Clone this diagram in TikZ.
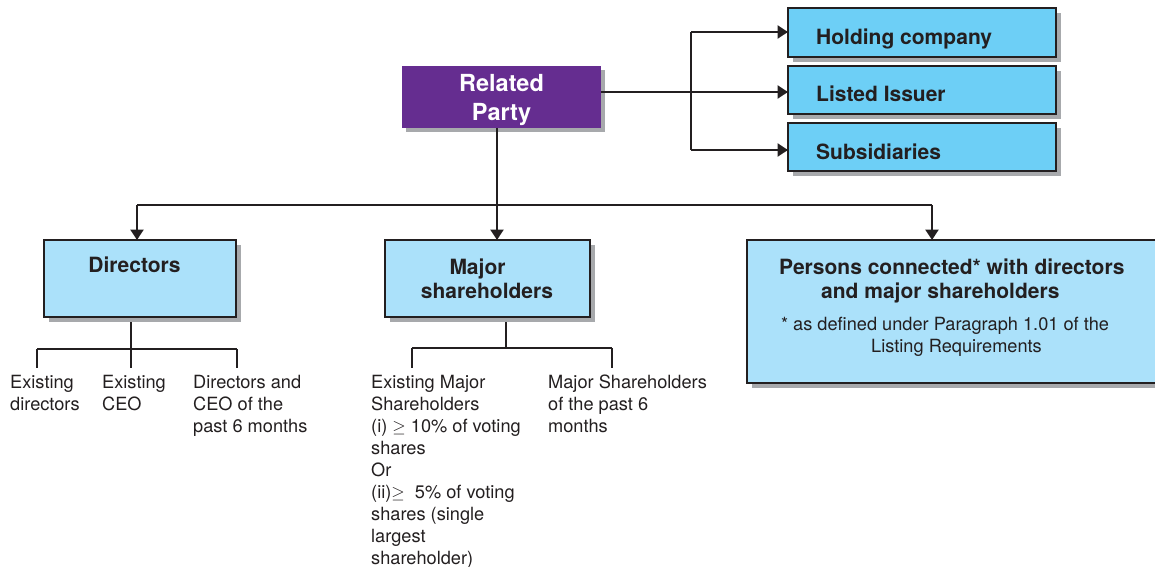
\documentclass[tikz,border=0pt]{standalone}
\usepackage{fontspec}
\setmainfont{TeX Gyre Heros}
\usetikzlibrary{arrows.meta}
\definecolor{ink}{HTML}{231F20}
\definecolor{rppurple}{HTML}{652D90}
\definecolor{brightblue}{HTML}{6DCFF6}
\definecolor{paleblue}{HTML}{ABE1FA}
\definecolor{shade}{HTML}{A7A9AC}
\newcommand\linesL[1]{\begin{tabular}[t]{@{}l@{}}#1\end{tabular}}
\newcommand\linesC[1]{\begin{tabular}[t]{@{}c@{}}#1\end{tabular}}
\begin{document}
\begin{tikzpicture}[x=1pt,y=-1pt,
  conn/.style={draw=ink, line width=2.4pt},
  arr/.style={conn, -{Triangle[length=10.5pt,width=13pt]}},
  boxbase/.style={rectangle, anchor=north west, inner sep=0pt, outer sep=0pt},
  topbox/.style={boxbase, fill=brightblue, draw=ink, line width=2.2pt},
  catbox/.style={boxbase, fill=paleblue, draw=ink, line width=2.2pt},
  shadowbox/.style={fill=shade},
  boldtxt/.style={inner sep=0pt, text=ink, font=\fontsize{21}{24.5}\selectfont\bfseries},
  plaintxt/.style={inner sep=0pt, text=ink, font=\fontsize{18.2}{22}\selectfont, anchor=base west},
]
\useasboundingbox (0,0) rectangle (1155,566);
\clip (0,0) rectangle (1155,566);

% ---- shadows ----
\fill[shadowbox] (406,70) rectangle (605,132);
\fill[shadowbox] (793,13) rectangle (1061,62);
\fill[shadowbox] (793,71) rectangle (1061,119);
\fill[shadowbox] (793,128) rectangle (1061,176);
\fill[shadowbox] (49,245) rectangle (241,322);
\fill[shadowbox] (390,245) rectangle (595,322);
\fill[shadowbox] (752,245) rectangle (1175,388);

% ---- boxes ----
\node[boxbase, fill=rppurple, minimum width=199pt, minimum height=62pt] (rp) at (402,66) {};
\node[topbox, minimum width=268pt, minimum height=49pt] (hold) at (788,8) {};
\node[topbox, minimum width=268pt, minimum height=48pt] (listed) at (788,66) {};
\node[topbox, minimum width=268pt, minimum height=48pt] (subs) at (788,123) {};
\node[catbox, minimum width=192pt, minimum height=77pt] (dir) at (44,240) {};
\node[catbox, minimum width=205pt, minimum height=77pt] (major) at (385,240) {};
\node[catbox, minimum width=420pt, minimum height=143pt] (pers) at (747,240) {};

% ---- box labels ----
\node[inner sep=0pt, text=white, anchor=base, font=\fontsize{23.5}{29}\selectfont\bfseries] (rplbl) at (501.5,91) {\linesC{Related\\Party}};
\node[boldtxt, anchor=base west] (holdlbl) at (816,44) {Holding company};
\node[boldtxt, anchor=base west] (listedlbl) at (816,101) {Listed Issuer};
\node[boldtxt, anchor=base west] (subslbl) at (816,159) {Subsidiaries};
\node[boldtxt, anchor=base] (dirlbl) at (134.5,272) {Directors};
\node[boldtxt, anchor=base] (majorlbl) at (487,274) {\linesC{Major\hspace*{19pt}\\shareholders}};
\node[boldtxt, anchor=base west] (perslbl) at (779,274) {\linesL{Persons connected* with directors\\\hspace*{42pt}and major shareholders}};
\node[plaintxt, anchor=base] (persnote) at (945,330) {\linesC{* as defined under Paragraph 1.01 of the\\\hspace*{23pt}Listing Requirements}};

% ---- Related Party to the three top boxes ----
\coordinate (rbusT) at (691,32);
\coordinate (rbusB) at (691,150);
\draw[conn] (rbusT) -- (rbusB);
\draw[arr] (rbusT) -- (hold.west |- rbusT);
\draw[arr] (rp.east |- 0,92) -- (listed.west |- 0,92);
\draw[arr] (rbusB) -- (subs.west |- rbusB);

% ---- Related Party down to the three categories ----
\coordinate (hub) at (497,205);
\coordinate (hubL) at (137,205);
\coordinate (hubR) at (932,205);
\draw[conn] (rp.south -| hub) -- (hub);
\draw[conn] (hubL) -- (hubR);
\draw[arr] (hubL) -- (hubL |- dir.north);
\draw[arr] (hub) -- (hub |- major.north);
\draw[arr] (hubR) -- (hubR |- pers.north);

% ---- Directors breakdown ----
\coordinate (dstem) at (131,322);
\coordinate (dbus) at (131,349);
\coordinate (dA) at (37,349);
\coordinate (dC) at (237,349);
\draw[conn] (dstem) -- (dbus);
\draw[conn] (dA) -- (dC);
\node[plaintxt] (dir1) at (10,388) {\linesL{Existing\\directors}};
\node[plaintxt] (dir2) at (102,388) {\linesL{Existing\\CEO}};
\node[plaintxt] (dir3) at (193,388) {\linesL{Directors and\\CEO of the\\past 6 months}};
\draw[conn] (dA) -- (dA |- 0,368);
\draw[conn] (dbus) -- (dbus |- 0,368);
\draw[conn] (dC) -- (dC |- 0,368);

% ---- Major shareholders breakdown ----
\coordinate (mstem) at (506,322);
\coordinate (mbus) at (506,348);
\coordinate (mA) at (412,348);
\coordinate (mB) at (612,348);
\draw[conn] (mstem) -- (mbus);
\draw[conn] (mA) -- (mB);
\draw[conn] (mA) -- (mA |- 0,368);
\draw[conn] (mB) -- (mB |- 0,368);
\node[plaintxt] (maj1) at (371,388) {\linesL{Existing Major\\Shareholders\\(i) $\geq$ 10\% of voting\\shares\\Or\\(ii)$\geq$\ \ 5\% of voting\\shares (single\\largest\\shareholder)}};
\node[plaintxt] (maj2) at (548,388) {\linesL{Major Shareholders\\of the past 6\\months}};
\end{tikzpicture}
\end{document}
